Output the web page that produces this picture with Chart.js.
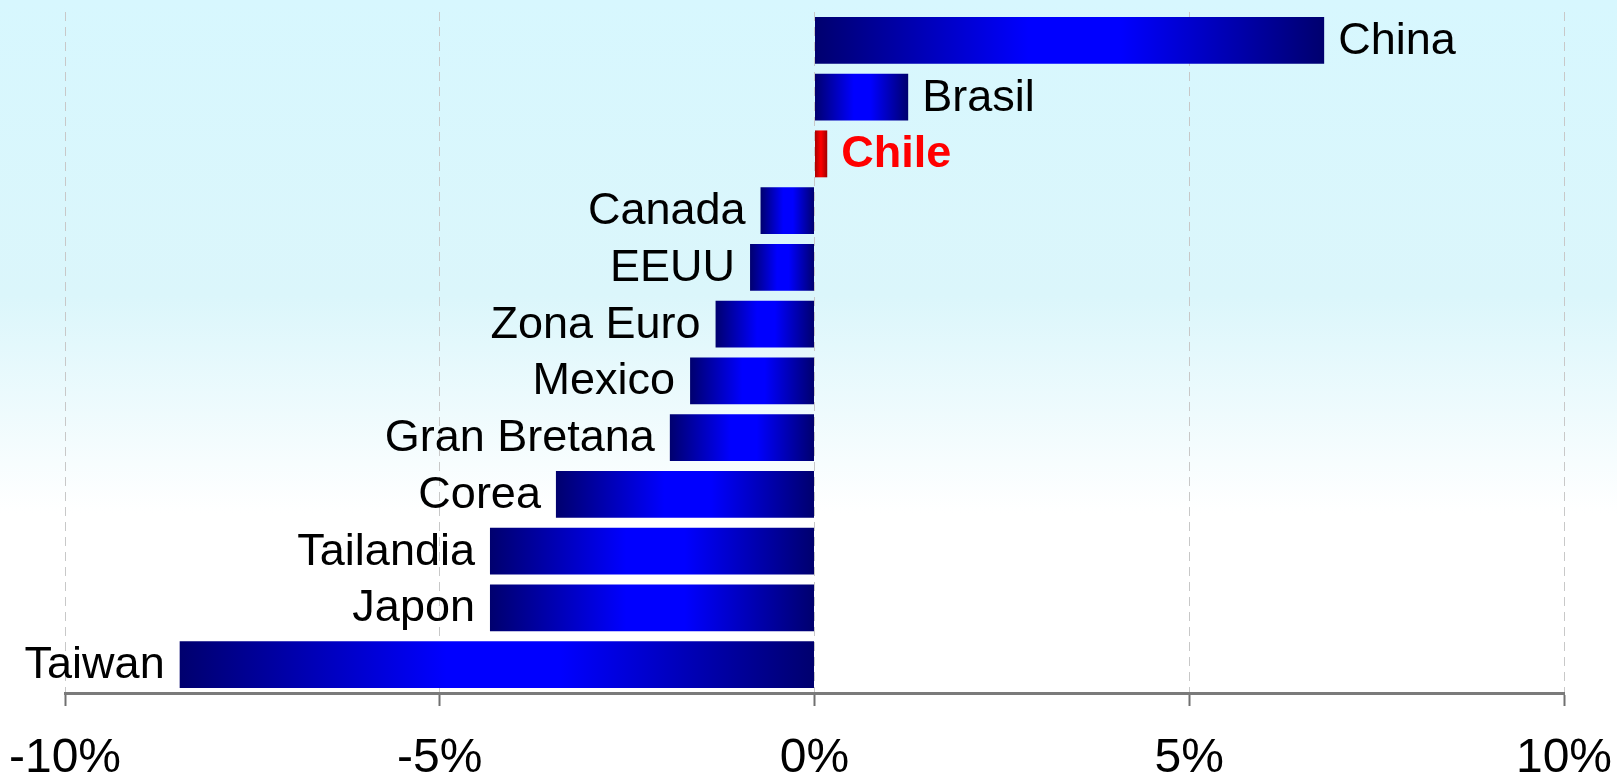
<!DOCTYPE html>
<html>
<head>
<meta charset="utf-8">
<script src="https://cdn.jsdelivr.net/npm/chart.js@4/dist/chart.umd.min.js"></script>
<style>
  html, body { margin: 0; padding: 0; background: #fff; }
  #wrap { width: 1617px; height: 777px; position: relative; }
</style>
</head>
<body>
<div id="wrap"><canvas id="growth"></canvas></div>
<script>
const countries = ['China', 'Brasil', 'Chile', 'Canada', 'EEUU', 'Zona Euro', 'Mexico',
  'Gran Bretana', 'Corea', 'Tailandia', 'Japon', 'Taiwan'];
const growth = [6.8, 1.25, 0.17, -0.72, -0.86, -1.32, -1.66, -1.93, -3.45, -4.33, -4.33, -8.47];
const xTicks = [-10, -5, 0, 5, 10];
const highlight = 'Chile';

const FONT = '"Liberation Sans", Arial, sans-serif';

function barFill(ctx) {
  const chart = ctx.chart;
  const x = chart.scales.x;
  const isChile = countries[ctx.dataIndex] === highlight;
  if (!x || !chart.chartArea) return isChile ? '#ff0000' : '#0000ff';
  const v = growth[ctx.dataIndex];
  const a = x.getPixelForValue(Math.min(0, v));
  const b = x.getPixelForValue(Math.max(0, v));
  const g = chart.ctx.createLinearGradient(a, 0, b, 0);
  if (isChile) {
    g.addColorStop(0, '#a00000');
    g.addColorStop(0.5, '#ff0000');
    g.addColorStop(1, '#a00000');
  } else {
    g.addColorStop(0, '#00006e');
    g.addColorStop(0.42, '#0000ff');
    g.addColorStop(0.6, '#0000ff');
    g.addColorStop(1, '#00006e');
  }
  return g;
}

// fondo celeste que se desvanece a blanco
const background = {
  id: 'background',
  beforeDraw(chart) {
    const { ctx, width, height } = chart;
    const g = ctx.createLinearGradient(0, 0, 0, height);
    g.addColorStop(0, '#d7f7fe');
    g.addColorStop(0.38, '#dbf6fb');
    g.addColorStop(0.66, '#ffffff');
    g.addColorStop(1, '#ffffff');
    ctx.save();
    ctx.fillStyle = g;
    ctx.fillRect(0, 0, width, height);
    ctx.restore();
  }
};

// nombre del país al final de cada barra
const barLabels = {
  id: 'barLabels',
  afterDatasetsDraw(chart) {
    const { ctx } = chart;
    const meta = chart.getDatasetMeta(0);
    ctx.save();
    ctx.textBaseline = 'middle';
    meta.data.forEach((el, i) => {
      const name = countries[i];
      const pos = growth[i] >= 0;
      const isChile = name === highlight;
      ctx.font = (isChile ? 'bold ' : '') + '45px ' + FONT;
      ctx.fillStyle = isChile ? '#ff0000' : '#000000';
      ctx.textAlign = pos ? 'left' : 'right';
      ctx.fillText(name, pos ? el.x + 14 : el.x - 15, el.y + 1);
    });
    ctx.restore();
  }
};

new Chart(document.getElementById('growth'), {
  type: 'bar',
  data: {
    labels: countries,
    datasets: [{
      data: growth,
      backgroundColor: barFill,
      borderWidth: 0,
      barPercentage: 0.826,
      categoryPercentage: 1
    }]
  },
  options: {
    indexAxis: 'y',
    responsive: true,
    maintainAspectRatio: false,
    animation: false,
    layout: { padding: { left: 65, right: 53, top: 12, bottom: 0 } },
    plugins: {
      legend: { display: false },
      tooltip: { enabled: false }
    },
    scales: {
      x: {
        min: -10,
        max: 10,
        afterBuildTicks: (scale) => { scale.ticks = xTicks.map(v => ({ value: v })); },
        afterFit: (scale) => {
          scale.height = 84;
          scale.paddingLeft = 0;
          scale.paddingRight = 0;
        },
        grid: {
          color: '#c8c8c8',
          lineWidth: 1,
          tickColor: '#707070',
          tickLength: 13,
          tickWidth: 2,
          tickBorderDash: []
        },
        border: { display: true, color: '#7a7a7a', width: 3, dash: [9, 6] },
        ticks: {
          color: '#000000',
          padding: 24,
          font: { family: FONT, size: 48 },
          callback: (v) => v + '%'
        }
      },
      y: { display: false }
    }
  },
  plugins: [background, barLabels]
});
</script>
</body>
</html>
